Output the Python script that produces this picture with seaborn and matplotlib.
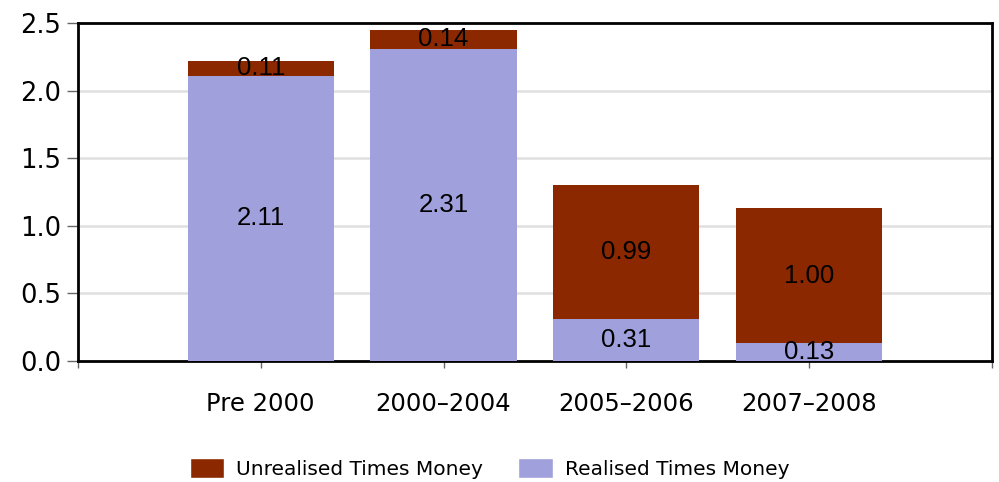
import matplotlib
matplotlib.use("Agg")
import matplotlib.pyplot as plt
import seaborn as sns
import pandas as pd
from matplotlib.patches import Patch

# Dados
periodos = ["Pre 2000", "2000–2004", "2005–2006", "2007–2008"]
realizado = [2.11, 2.31, 0.31, 0.13]
nao_realizado = [0.11, 0.14, 0.99, 1.00]

cor_nao_real = "#8B2800"
cor_real = "#A0A0DC"

df = pd.DataFrame({"Periodo": periodos, "Realizado": realizado, "NaoRealizado": nao_realizado})
df["Total"] = df["Realizado"] + df["NaoRealizado"]

sns.set_style("white")
plt.rcParams["font.family"] = ["DejaVu Sans"]
plt.rcParams["text.color"] = "black"
plt.rcParams["xtick.color"] = "#666666"
plt.rcParams["ytick.color"] = "#666666"
plt.rcParams["xtick.labelcolor"] = "black"
plt.rcParams["ytick.labelcolor"] = "black"

fig = plt.figure(figsize=(9.99, 4.82), dpi=100)
ax = fig.add_axes([0.078, 0.251, 0.915, 0.701])

# barra total (não realizado por cima) e realizado por baixo
sns.barplot(data=df, x="Periodo", y="Total", color=cor_nao_real, saturation=1,
            width=0.8, ax=ax, zorder=2, linewidth=0, edgecolor="none")
sns.barplot(data=df, x="Periodo", y="Realizado", color=cor_real, saturation=1,
            width=0.8, ax=ax, zorder=3, linewidth=0, edgecolor="none")

# rótulos no meio de cada segmento
for i, (r, n) in enumerate(zip(realizado, nao_realizado)):
    ax.text(i, r / 2, f"{r:.2f}", ha="center", va="center", fontsize=18.5,
            family="Liberation Sans", color="black", zorder=5)
    ax.text(i, r + n / 2, f"{n:.2f}", ha="center", va="center", fontsize=18.5,
            family="Liberation Sans", color="black", zorder=5)

ax.set_xlim(-1, 4)
ax.set_ylim(0, 2.5)
ax.set_xticks(range(-1, 5))
ax.set_xticklabels([""] + periodos + [""], fontsize=17.5)
ax.set_yticks([0, 0.5, 1.0, 1.5, 2.0, 2.5])
ax.set_yticklabels(["0.0", "0.5", "1.0", "1.5", "2.0", "2.5"], fontsize=18.5)
ax.tick_params(axis="both", direction="out", width=1, bottom=True, left=True)
ax.tick_params(axis="x", length=5, pad=17)
ax.tick_params(axis="y", length=8, pad=4)
ax.set_xlabel("")
ax.set_ylabel("")

for y in [0.5, 1.0, 1.5, 2.0]:
    ax.axhline(y, color="#e0e0e0", lw=1.8, zorder=1)

for s in ax.spines.values():
    s.set_visible(True)
    s.set_color("black")
    s.set_linewidth(2)

handles = [Patch(facecolor=cor_nao_real, label="Unrealised Times Money"),
           Patch(facecolor=cor_real, label="Realised Times Money")]
fig.legend(handles=handles, loc="center", bbox_to_anchor=(0.49, 0.028), ncol=2,
           frameon=False, fontsize=14.5, handlelength=1.7, handleheight=1.1,
           columnspacing=1.75, handletextpad=0.6)

fig.savefig("out.png", dpi=100)
